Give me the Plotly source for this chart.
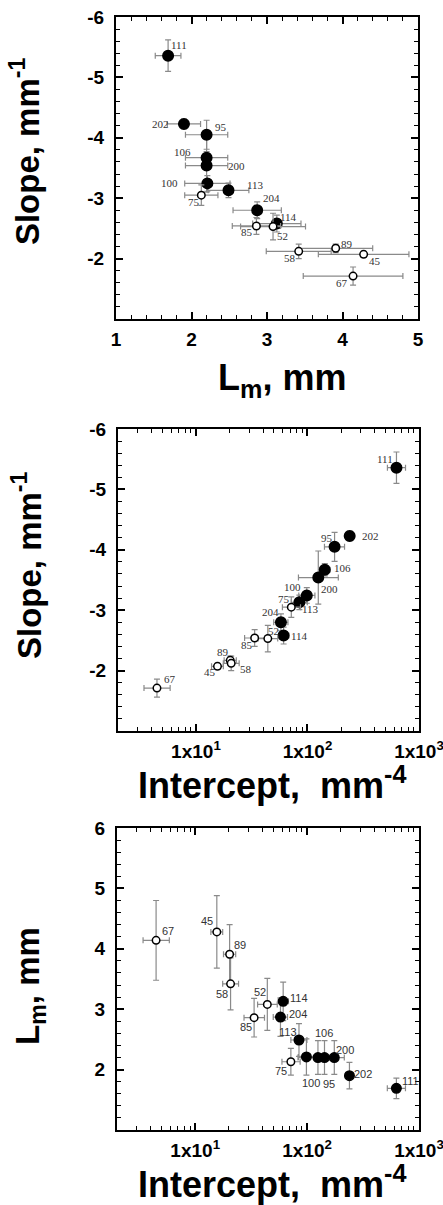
import math
import plotly.graph_objects as go

# ---------------- data ----------------
samples = ["111", "202", "95", "106", "200", "100", "113", "75",
           "204", "114", "85", "52", "89", "58", "45", "67"]
filled = [True, True, True, True, True, True, True, False,
          True, True, False, False, False, False, False, False]
lm = [1.69, 1.90, 2.20, 2.20, 2.20, 2.21, 2.49, 2.13,
      2.87, 3.13, 2.86, 3.08, 3.91, 3.42, 4.28, 4.14]
lm_err = [0.17, 0.22, 0.28, 0.28, 0.28, 0.30, 0.27, 0.22,
          0.32, 0.32, 0.32, 0.43, 0.49, 0.43, 0.60, 0.66]
slope = [-5.36, -4.23, -4.05, -3.67, -3.54, -3.245, -3.13, -3.05,
         -2.80, -2.58, -2.54, -2.53, -2.17, -2.12, -2.07, -1.71]
slope_err = [0.26, 0.08, 0.24, 0.10, 0.44, 0.13, 0.12, 0.17,
             0.14, 0.14, 0.14, 0.22, 0.07, 0.12, 0.05, 0.15]
intercept = [628, 239, 175, 143, 125, 98.6, 84.6, 71.6,
             57.8, 61.1, 33.6, 44.1, 20.3, 20.7, 15.6, 4.47]
int_err_plus = [129, 15, 40, 16, 64, 18, 15, 15,
                9, 7, 8, 10, 2.7, 3.7, 2.0, 1.4]
int_err_minus = [107, 14, 33, 14, 42, 15, 13, 12,
                 8, 6, 6.3, 8, 2.4, 3.1, 1.8, 1.05]

# label offsets (px: dx right, dy down) per panel
lab_top = {"111": (11, -11), "202": (-23, 0), "95": (14, -8), "106": (-24, -6),
           "200": (30, 0), "100": (-38, 0), "113": (27, -5), "75": (-7, 7),
           "204": (14, -12), "114": (12, -7), "85": (-9, 6), "52": (9, 9),
           "89": (11, -4), "58": (-9, 7), "45": (11, 7), "67": (-11, 7)}
lab_mid = {"111": (-11, -9), "95": (-8, -9), "202": (21, 0), "106": (18, -2),
           "200": (11, 11), "100": (-14, -8), "113": (11, 7), "75": (-7, -8),
           "204": (-10, -10), "114": (16, 0), "52": (6, -8), "85": (-8, 7),
           "89": (-7, -8), "58": (15, 6), "45": (-7, 6), "67": (13, -9)}
lab_bot = {"67": (12, -9), "45": (-10, -11), "89": (10, -9), "58": (-9, 10),
           "52": (-7, -12), "114": (16, -3), "85": (-8, 9), "204": (18, -3),
           "113": (-11, -8), "106": (0, -25), "100": (5, 26), "95": (-5, 26),
           "200": (27, -8), "75": (-10, 9), "202": (14, -2), "111": (14, -7)}

ERR_COL = "#8a8a8a"
FONT = "Liberation Sans"

fig = go.Figure()


def sub(lst, want):
    return [v for v, f in zip(lst, filled) if f == want]


def add_panel(xv, yv, exp, exm, eyp, eym, xa, ya, msize):
    for want in (True, False):
        fig.add_trace(go.Scatter(
            x=sub(xv, want), y=sub(yv, want), mode="markers",
            xaxis=xa, yaxis=ya, showlegend=False,
            marker=dict(size=msize if want else 7.5,
                        color="black" if want else "white",
                        line=dict(color="black", width=1.5)),
            error_x=dict(type="data", array=sub(exp, want), arrayminus=sub(exm, want),
                         symmetric=False, color=ERR_COL, thickness=1.2, width=3),
            error_y=dict(type="data", array=sub(eyp, want), arrayminus=sub(eym, want),
                         symmetric=False, color=ERR_COL, thickness=1.2, width=3),
        ))


add_panel(lm, slope, lm_err, lm_err, slope_err, slope_err, "x", "y", 10.5)
add_panel(intercept, slope, int_err_plus, int_err_minus, slope_err, slope_err, "x2", "y2", 10.5)
add_panel(intercept, lm, int_err_plus, int_err_minus, lm_err, lm_err, "x3", "y3", 9.5)

annotations = []
for i, s in enumerate(samples):
    dx, dy = lab_top[s]
    annotations.append(dict(x=lm[i], y=slope[i], xref="x", yref="y", text=s,
                            showarrow=False, xshift=dx, yshift=-dy,
                            font=dict(family="Liberation Serif", size=11, color="#333")))
    dx, dy = lab_mid[s]
    annotations.append(dict(x=math.log10(intercept[i]), y=slope[i], xref="x2", yref="y2",
                            text=s, showarrow=False, xshift=dx, yshift=-dy,
                            font=dict(family="Liberation Serif", size=11, color="#333")))
    dx, dy = lab_bot[s]
    annotations.append(dict(x=math.log10(intercept[i]), y=lm[i], xref="x3", yref="y3",
                            text=s, showarrow=False, xshift=dx, yshift=-dy,
                            font=dict(family=FONT, size=11, color="#333")))

xt_font = dict(family=FONT, size=36, color="black", weight="bold")
yt_font = dict(family=FONT, size=33, color="black", weight="bold")
annotations += [
    dict(text="L<sub>m</sub>, mm", x=0.548, y=0.6963, xref="paper", yref="paper",
         xanchor="center", yanchor="top", showarrow=False, font=xt_font),
    dict(text="Intercept,  mm<sup>-4</sup>", x=0.515, y=0.3343, xref="paper", yref="paper",
         xanchor="center", yanchor="top", showarrow=False, font=xt_font),
    dict(text="Intercept,  mm<sup>-4</sup>", x=0.516, y=-0.0245, xref="paper", yref="paper",
         xanchor="center", yanchor="top", showarrow=False, font=xt_font),
    dict(text="Slope, mm<sup>-1</sup>", x=-0.300, y=0.8796, xref="paper", yref="paper",
         xanchor="center", yanchor="middle", textangle=-90, showarrow=False, font=yt_font),
    dict(text="Slope, mm<sup>-1</sup>", x=-0.2937, y=0.5076, xref="paper", yref="paper",
         xanchor="center", yanchor="middle", textangle=-90, showarrow=False, font=yt_font),
    dict(text="L<sub>m</sub>, mm", x=-0.284, y=0.1294, xref="paper", yref="paper",
         xanchor="center", yanchor="middle", textangle=-90, showarrow=False, font=yt_font),
]

tick_font = dict(family=FONT, size=19, color="black", weight="bold")
common = dict(showline=True, linewidth=2, linecolor="black", mirror="ticks",
              ticks="inside", ticklen=7, tickwidth=1.5, tickcolor="black",
              showgrid=False, zeroline=False, tickfont=tick_font,
              automargin=False, ticklabeloverflow="allow")
xcommon = dict(common, ticklabelstandoff=2)
ycommon = dict(common, ticklabelstandoff=6)

minor_lin = dict(ticks="inside", ticklen=4, tickwidth=1, tickcolor="black", showgrid=False)
log_minor_vals = [m * 10 ** e for e in range(0, 3) for m in range(2, 10)]
minor_log = dict(ticks="inside", ticklen=4, tickwidth=1, tickcolor="black",
                 showgrid=False, tickvals=log_minor_vals)

log_ticks = [10, 100, 1000]
log_text = ["1x10<sup>1</sup>", "1x10<sup>2</sup>", "1x10<sup>3</sup>"]

fig.update_layout(
    width=443, height=1205,
    margin=dict(l=116, r=24, t=17, b=75, autoexpand=False),
    paper_bgcolor="white", plot_bgcolor="white",
    annotations=annotations,
    xaxis=dict(domain=[0, 0.9967], anchor="y", range=[1, 5], tickvals=[1, 2, 3, 4, 5],
               ticktext=["1", "2", "3", "4", "5"],
               minor=dict(dtick=0.2, tick0=1, **minor_lin), **xcommon),
    yaxis=dict(domain=[0.7287, 1.0], anchor="x", range=[-1, -6],
               tickvals=[-6, -5, -4, -3, -2], ticktext=["-6", "-5", "-4", "-3", "-2"],
               minor=dict(dtick=0.2, tick0=-6, **minor_lin), **ycommon),
    xaxis2=dict(domain=[0.0066, 1.0], anchor="y2", type="log", range=[0.301, 3],
                tickvals=log_ticks, ticktext=log_text, minor=minor_log, **xcommon),
    yaxis2=dict(domain=[0.3585, 0.6298], anchor="x2", range=[-1, -6],
                tickvals=[-6, -5, -4, -3, -2], ticktext=["-6", "-5", "-4", "-3", "-2"],
                minor=dict(dtick=0.2, tick0=-6, **minor_lin), **ycommon),
    xaxis3=dict(domain=[0.0033, 1.0], anchor="y3", type="log", range=[0.301, 3],
                tickvals=log_ticks, ticktext=log_text, minor=minor_log, **xcommon),
    yaxis3=dict(domain=[0.0, 0.2713], anchor="x3", range=[1, 6],
                tickvals=[2, 3, 4, 5, 6], ticktext=["2", "3", "4", "5", "6"],
                minor=dict(dtick=0.2, tick0=1, **minor_lin), **ycommon),
)

fig.write_html("out.html", config={"displayModeBar": False},
               post_script="document.body.style.margin='0px';")
